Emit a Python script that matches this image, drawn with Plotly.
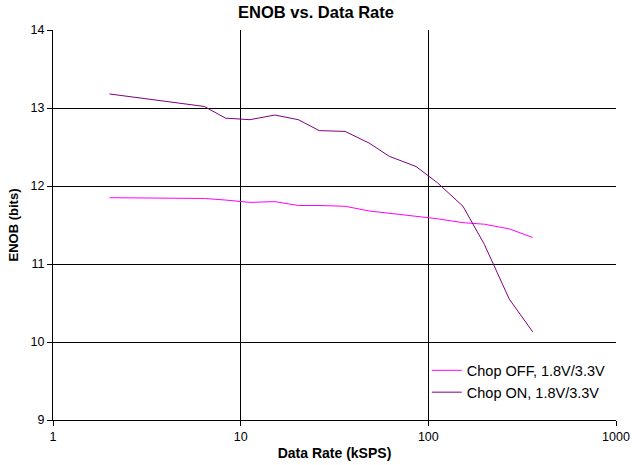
import plotly.graph_objects as go

rate_khz = [2, 6.4, 8.3, 11.2, 15.2, 20.3, 26.2, 36, 48.4, 62, 86, 112, 153, 199, 270, 360]
enob_chop_off = [11.85, 11.84, 11.82, 11.79, 11.80, 11.75, 11.75, 11.74, 11.68, 11.65, 11.62, 11.58, 11.53, 11.51, 11.45, 11.34]
enob_chop_on = [13.18, 13.02, 12.87, 12.85, 12.91, 12.85, 12.71, 12.70, 12.55, 12.38, 12.25, 12.04, 11.74, 11.25, 10.55, 10.13]
x_ticks = [1, 10, 100, 1000]
y_ticks = [9, 10, 11, 12, 13, 14]

fig = go.Figure()
fig.add_trace(go.Scatter(x=rate_khz, y=enob_chop_off, mode="lines",
                         name="Chop OFF, 1.8V/3.3V",
                         line=dict(color="#FF00FF", width=1)))
fig.add_trace(go.Scatter(x=rate_khz, y=enob_chop_on, mode="lines",
                         name="Chop ON, 1.8V/3.3V",
                         line=dict(color="#800080", width=1)))

font = "Liberation Sans, Arial, sans-serif"
fig.update_layout(
    width=632, height=465,
    margin=dict(l=53, r=16, t=30, b=45, autoexpand=False),
    paper_bgcolor="white", plot_bgcolor="white",
    font=dict(family=font, size=12.5, color="black"),
    title=dict(text="<b>ENOB vs. Data Rate</b>", x=0.5, xanchor="center",
               y=1 - 12 / 465, yanchor="middle", font=dict(size=16.5),
               automargin=False),
    showlegend=True,
    legend=dict(x=0.664, y=0.099, xanchor="left", yanchor="middle",
                bgcolor="rgba(255,255,255,0)", borderwidth=0,
                font=dict(size=14.5), itemwidth=30, tracegroupgap=0),
)
fig.update_xaxes(type="log", range=[0, 3], tickvals=x_ticks,
                 ticktext=[str(v) for v in x_ticks],
                 showgrid=True, gridcolor="black", gridwidth=1,
                 showline=True, linecolor="black", linewidth=1, mirror=False,
                 ticks="outside", ticklen=5, tickcolor="black",
                 zeroline=False, automargin=False,
                 title=dict(text="<b>Data Rate (kSPS)</b>", standoff=5,
                            font=dict(size=14)))
fig.update_yaxes(range=[9, 14], tickvals=y_ticks,
                 showgrid=True, gridcolor="black", gridwidth=1,
                 showline=True, linecolor="black", linewidth=1,
                 ticks="outside", ticklen=5, tickcolor="black",
                 zeroline=False, automargin=False,
                 title=dict(text="<b>ENOB (bits)</b>", standoff=9,
                            font=dict(size=13)))

fig.write_html("out.html", config={"displayModeBar": False},
               post_script="document.body.style.margin='0';")
